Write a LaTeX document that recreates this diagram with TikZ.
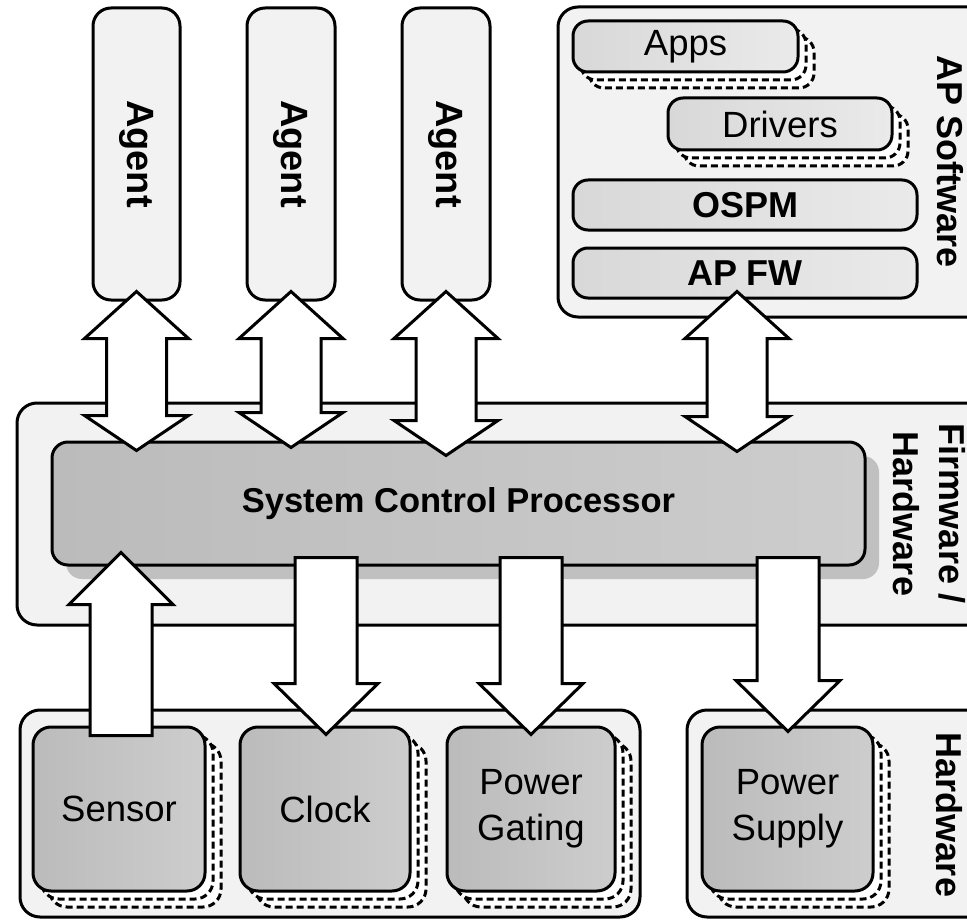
\documentclass[tikz,border=0pt]{standalone}
\usepackage{fontspec}
\setmainfont{Liberation Sans}
\usetikzlibrary{calc}
\definecolor{panelgray}{HTML}{F2F2F2}
\definecolor{darkL}{HTML}{BBBBBB}
\definecolor{darkR}{HTML}{CDCDCD}
\definecolor{lightL}{HTML}{D8D8D8}
\definecolor{lightR}{HTML}{EAEAEA}
\definecolor{shadowgray}{HTML}{C0C0C0}
\newcommand\dblarrow[2]{%
 \draw[blockarrow] let \p1=#1, \p2=#2 in
 (\x1,\y1) -- (\x1+52pt,\y1-47pt) -- (\x1+30pt,\y1-47pt) -- (\x1+30pt,\y2+35pt)
 -- (\x1+52pt,\y2+35pt) -- (\x1,\y2) -- (\x1-52pt,\y2+35pt) -- (\x1-30pt,\y2+35pt)
 -- (\x1-30pt,\y1-47pt) -- (\x1-52pt,\y1-47pt) -- cycle;}
\newcommand\blkdown[2]{%
 \draw[blockarrow] let \p1=#1, \p2=#2 in
 (\x2,\y2) -- (\x2+52pt,\y2+51pt) -- (\x2+31pt,\y2+51pt) -- (\x2+31pt,\y1)
 -- (\x2-31pt,\y1) -- (\x2-31pt,\y2+51pt) -- (\x2-52pt,\y2+51pt) -- cycle;}
\newcommand\blkup[2]{%
 \draw[blockarrow] let \p1=#1, \p2=#2 in
 (\x1,\y1) -- (\x1+52pt,\y1-52pt) -- (\x1+31pt,\y1-52pt) -- (\x1+31pt,\y2)
 -- (\x1-31pt,\y2) -- (\x1-31pt,\y1-52pt) -- (\x1-52pt,\y1-52pt) -- cycle;}
\begin{document}
\begin{tikzpicture}[x=1pt,y=-1pt,
  every node/.style={inner sep=0pt, font=\fontsize{36.5}{46}\selectfont},
  panel/.style={draw, line width=3pt, fill=panelgray, rounded corners=20pt, rectangle},
  agentbox/.style={draw, line width=3pt, fill=panelgray, rounded corners=18pt, rectangle, font=\fontsize{38}{44}\selectfont\bfseries},
  swbox/.style={draw, line width=3pt, left color=lightL, right color=lightR, rounded corners=15pt, rectangle},
  swbold/.style={swbox, font=\fontsize{36}{44}\selectfont\bfseries},
  hwbox/.style={draw, line width=3pt, left color=darkL, right color=darkR, rounded corners=18pt, rectangle, align=center},
  dashcopy/.style={draw, line width=3pt, dash pattern=on 7pt off 4pt, fill=white, rectangle},
  scpbox/.style={draw, line width=3pt, left color=darkL, right color=darkR, rounded corners=16pt, rectangle, font=\fontsize{34.5}{41}\selectfont\bfseries},
  scpshadow/.style={fill=shadowgray, rounded corners=16pt, rectangle},
  sidelabel/.style={rotate=-90, align=center, font=\fontsize{36}{46}\selectfont\bfseries},
  blockarrow/.style={draw, line width=3pt, fill=white, line join=miter}
]
\path[use as bounding box] (0,0) rectangle (967,923);
\clip (0,0) rectangle (967,923);

% panels
\node[panel, minimum width=442pt, minimum height=310pt] (appanel) at (779,162) {};
\node[panel, minimum width=983pt, minimum height=222pt] (fwpanel) at (508.5,514) {};
\node[panel, minimum width=620pt, minimum height=207pt] (hwpanelL) at (330,813.5) {};
\node[panel, minimum width=313pt, minimum height=207pt] (hwpanelR) at (843.5,813.5) {};

% agents
\node[agentbox, minimum width=87pt, minimum height=292pt] (ag1) at (136.5,154) {\rotatebox{-90}{Agent}};
\node[agentbox, minimum width=88pt, minimum height=292pt] (ag2) at (291,154) {\rotatebox{-90}{Agent}};
\node[agentbox, minimum width=88pt, minimum height=292pt] (ag3) at (446,154) {\rotatebox{-90}{Agent}};

% AP software stack
\node[dashcopy, rounded corners=15pt, minimum width=225pt, minimum height=51pt] (appsC2) at (701.5,62.5) {};
\node[dashcopy, rounded corners=15pt, minimum width=225pt, minimum height=51pt] (appsC1) at (693.5,54.5) {};
\node[swbox, minimum width=225pt, minimum height=51pt] (apps) at (685.5,46.5) {Apps};
\node[dashcopy, rounded corners=15pt, minimum width=224pt, minimum height=52pt] (drvC2) at (796,140) {};
\node[dashcopy, rounded corners=15pt, minimum width=224pt, minimum height=52pt] (drvC1) at (788,132) {};
\node[swbox, minimum width=224pt, minimum height=52pt] (drv) at (780,124) {Drivers};
\node[swbold, minimum width=344pt, minimum height=50pt] (ospm) at (745,205) {OSPM};
\node[swbold, minimum width=344pt, minimum height=50pt] (apfw) at (745,273) {AP FW};

% SCP
\node[scpshadow, minimum width=813pt, minimum height=123pt] (scpS) at (472.5,517.5) {};
\node[scpbox, minimum width=813pt, minimum height=123pt] (scp) at (458.5,503.5) {System Control Processor\hspace{24pt}};

% hardware blocks
\foreach \nm/\cx/\w/\txt in {sensor/119/172/Sensor, clock/325/170/Clock, pg/531/168/{Power\\Gating}, ps/787.5/171/{Power\\Supply}}{
  \node[dashcopy, rounded corners=18pt, minimum width=\w pt, minimum height=164pt] (\nm C2) at (\cx+16,825) {};
  \node[dashcopy, rounded corners=18pt, minimum width=\w pt, minimum height=164pt] (\nm C1) at (\cx+8,817) {};
  \node[hwbox, minimum width=\w pt, minimum height=164pt] (\nm) at (\cx,809) {\txt};
}

% side labels
\node[sidelabel] (apswlabel) at (950,162) {AP Software};
\node[sidelabel] (fwlabel) at (929,514) {Firmware /\\Hardware};
\node[sidelabel] (hwlabel) at (949,815) {Hardware};

% block arrows
\dblarrow{($(ag1.south)+(0,-10)$)}{($(scp.north -| ag1.south)+(0,10)$)}
\dblarrow{($(ag2.south)+(0,-10)$)}{($(scp.north -| ag2.south)+(0,7)$)}
\dblarrow{($(ag3.south)+(0,-10)$)}{($(scp.north -| ag3.south)+(0,15)$)}
\dblarrow{($(apfw.south)+(-8,-8)$)}{($(scp.north -| apfw.south)+(-8,11)$)}
\blkup{($(scp.south -| sensor.north)+(2,-14)$)}{($(sensor.north)+(2,10)$)}
\blkdown{($(scp.south -| clock.north)+(1,-9)$)}{($(clock.north)+(1,9)$)}
\blkdown{($(scp.south -| pg.north)+(0,-9)$)}{($(pg.north)+(0,9)$)}
\blkdown{($(scp.south -| ps.north)+(0.5,-9)$)}{($(ps.north)+(0.5,6)$)}
\end{tikzpicture}
\end{document}
